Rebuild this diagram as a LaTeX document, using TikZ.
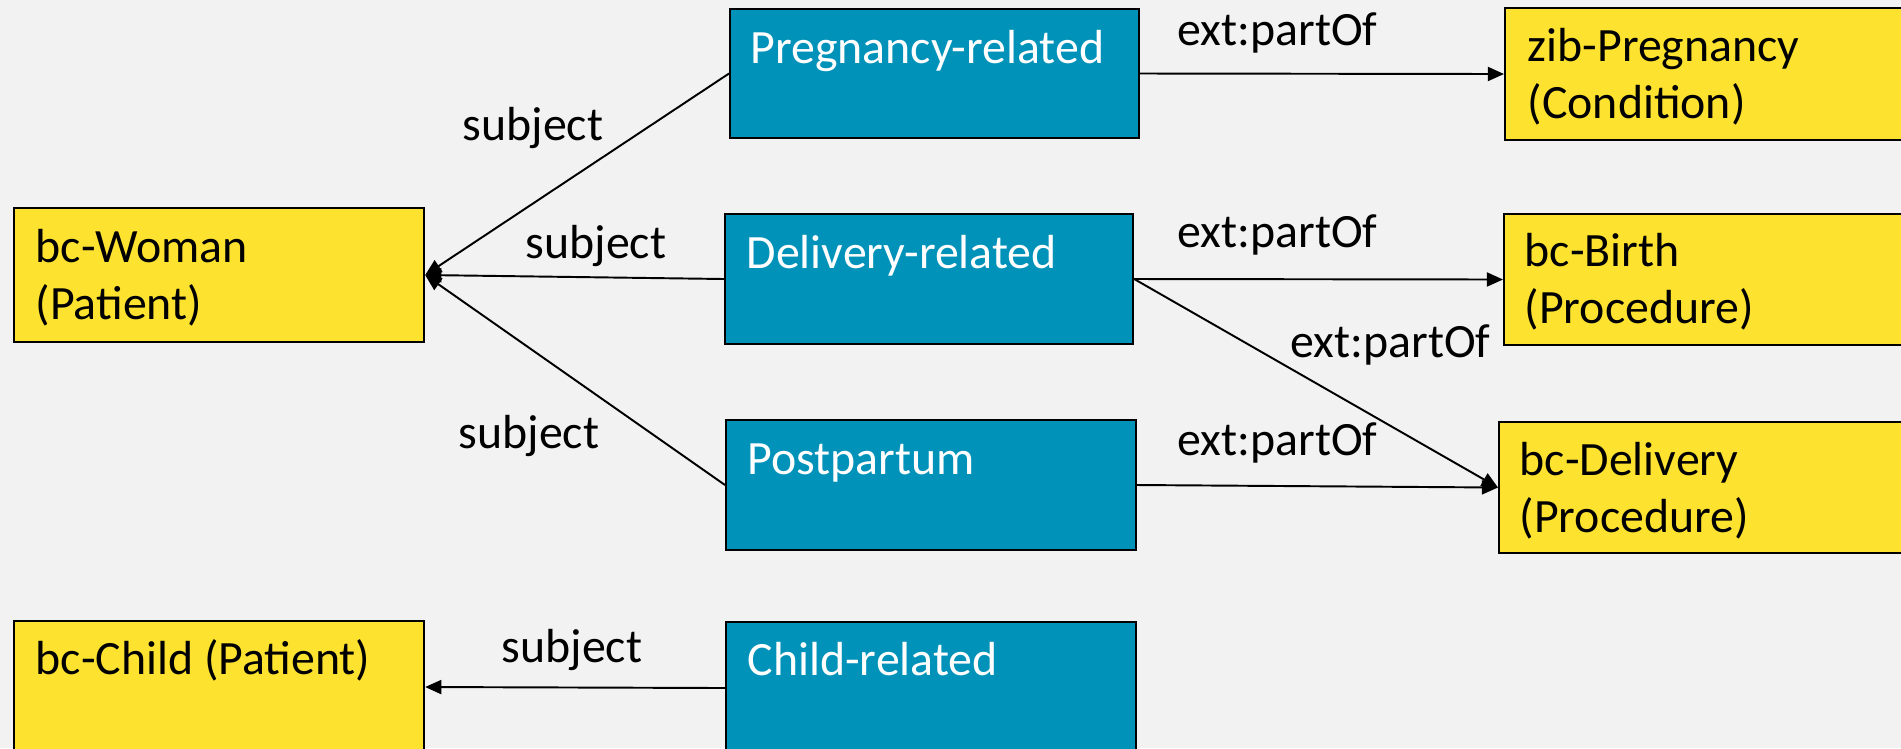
\documentclass[tikz,border=0pt]{standalone}
\usepackage{fontspec}
\setmainfont{Carlito}
\usetikzlibrary{arrows.meta}

\definecolor{boxyellow}{HTML}{FDE22F}
\definecolor{boxblue}{HTML}{0092B9}
\definecolor{bggrey}{HTML}{F2F2F2}

\tikzset{
  ybox/.style={draw=black, line width=0.55pt, fill=boxyellow, anchor=north west, inner sep=0pt},
  bbox/.style={draw=black, line width=0.55pt, fill=boxblue, anchor=north west, inner sep=0pt},
  btxt/.style={anchor=base west, align=left, inner sep=0pt},
  lbl/.style={anchor=base west, inner sep=0pt},
  conn/.style={line width=0.55pt, -{Triangle[length=4.6pt,width=4pt]}}
}

\begin{document}
\begin{tikzpicture}[x=0.01cm,y=-0.01cm,font=\fontsize{13.6}{16}\selectfont]

% background
\fill[bggrey] (0,0) rectangle (1901,748);
\useasboundingbox (0,0) rectangle (1901,748);

% patients (two-line texts sit on the baseline of their second line)
\node[ybox, minimum width=4.10cm, minimum height=1.34cm] (woman) at (13,207) {};
\node[btxt] (woman-t) at (35,319) {bc-Woman\\(Patient)};
\node[ybox, minimum width=4.10cm, minimum height=1.32cm] (child) at (13,620) {};
\node[btxt] (child-t) at (35,674) {bc-Child (Patient)};

% observation groups
\node[bbox, minimum width=4.09cm, minimum height=1.29cm] (preg) at (729,8) {};
\node[btxt, white] (preg-t) at (750,63) {Pregnancy-related};
\node[bbox, minimum width=4.08cm, minimum height=1.30cm] (deliv) at (724,213) {};
\node[btxt, white] (deliv-t) at (746,268) {Delivery-related};
\node[bbox, minimum width=4.10cm, minimum height=1.30cm] (post) at (725,419) {};
\node[btxt, white] (post-t) at (747,474) {Postpartum};
\node[bbox, minimum width=4.10cm, minimum height=1.32cm] (childrel) at (725,621) {};
\node[btxt, white] (childrel-t) at (747,675) {Child-related};

% targets on the right
\node[ybox, minimum width=4.20cm, minimum height=1.32cm] (zib) at (1504,7) {};
\node[btxt] (zib-t) at (1527,118) {zib-Pregnancy\\(Condition)};
\node[ybox, minimum width=4.20cm, minimum height=1.31cm] (birth) at (1503,213) {};
\node[btxt] (birth-t) at (1524,323) {bc-Birth\\(Procedure)};
\node[ybox, minimum width=4.20cm, minimum height=1.31cm] (bcdeliv) at (1498,421) {};
\node[btxt] (bcdeliv-t) at (1519,532) {bc-Delivery\\(Procedure)};

% subject links
\draw[conn] (preg.west) -- (woman.east);
\draw[conn] (deliv.west) -- (woman.east);
\draw[conn] (post.west) -- (woman.east);
\draw[conn] (childrel.west) -- (child.east);

\node[lbl] (subj1) at (462,140) {subject};
\node[lbl] (subj2) at (525,258) {subject};
\node[lbl] (subj3) at (458,448) {subject};
\node[lbl] (subj4) at (501,662) {subject};

% partOf links
\draw[conn] (preg.east) -- (zib.west);
\draw[conn] (deliv.east) -- (birth.west);
\draw[conn] (deliv.east) -- (bcdeliv.west);
\draw[conn] (post.east) -- (bcdeliv.west);

\node[lbl] (part1) at (1177,45) {ext:partOf};
\node[lbl] (part2) at (1177,247) {ext:partOf};
\node[lbl] (part3) at (1290,357) {ext:partOf};
\node[lbl] (part4) at (1177,455) {ext:partOf};

\end{tikzpicture}
\end{document}
